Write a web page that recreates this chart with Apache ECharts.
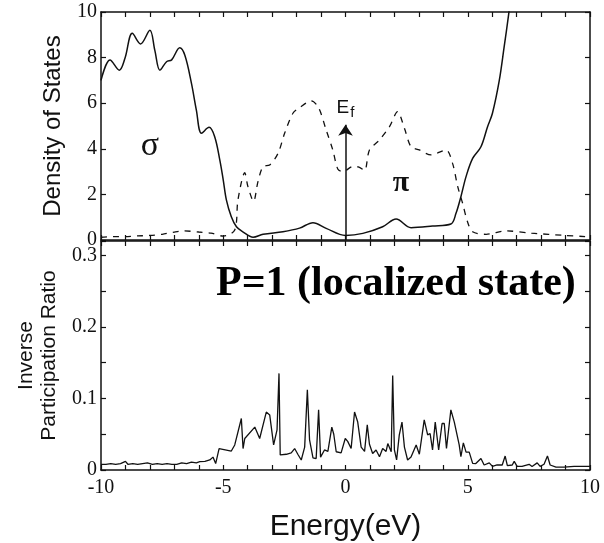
<!DOCTYPE html>
<html>
<head>
<meta charset="utf-8">
<script src="https://cdn.jsdelivr.net/npm/echarts@6/dist/echarts.min.js"></script>
<style>
html,body{margin:0;padding:0;background:#fff}
#chart{width:604px;height:543px}
</style>
</head>
<body>
<div id="chart"></div>
<script>
////---------------- data ----------------////
// total density of states (solid)
const dosE     = [-10,-9.63,-9.25,-9.02,-8.72,-8.38,-8.0,-7.8,-7.59,-7.32,-7.11,-6.78,-6.57,-6.3,-6.1,-5.89,-5.58,-5.35,-5.14,-5.0,-4.87,-4.67,-4.46,-4.2,-3.78,-3.37,-2.56,-1.88,-1.33,-0.79,0,0.71,1.52,2.07,2.68,3.56,4.31,4.52,4.72,4.93,5.2,5.54,5.81,6.01,6.29,6.49,6.67,6.75];
const dosTotal = [7.0,7.9,7.45,7.97,9.07,8.6,9.2,8.33,7.45,7.82,7.9,8.43,8.1,6.87,5.7,4.68,4.94,4.53,3.5,2.63,1.75,1.02,0.58,0.36,0.12,0.25,0.36,0.52,0.76,0.51,0.2,0.29,0.58,0.92,0.54,0.61,0.7,1.17,1.9,2.78,3.58,4.09,4.97,5.56,7.0,8.48,9.87,10.6];
// pi density of states (dashed)
const piE   = [-10,-9.5,-9.0,-8.5,-8.0,-7.5,-7.0,-6.6,-6.0,-5.5,-5.0,-4.53,-4.4,-4.12,-3.99,-3.76,-3.58,-3.37,-3.1,-2.76,-2.49,-2.15,-1.88,-1.4,-1.1,-0.79,-0.52,-0.31,-0.1,0.3,0.55,0.78,0.98,1.39,1.8,2.13,2.41,2.68,3.02,3.5,4.11,4.38,4.59,4.79,4.99,5.2,5.75,6.56,7.6,9.0,9.8];
const piDos = [0.12,0.15,0.15,0.18,0.2,0.25,0.35,0.4,0.35,0.3,0.17,0.44,1.75,2.95,2.34,1.7,2.56,3.22,3.29,3.8,4.68,5.56,5.8,6.1,5.8,4.82,3.95,3.1,3.0,3.22,3.2,3.05,3.95,4.39,4.97,5.63,4.9,4.09,3.95,3.73,3.95,3.36,2.34,1.61,0.8,0.36,0.25,0.4,0.3,0.2,0.15];
// inverse participation ratio
const iprE = [-10,-9.8,-9.6,-9.4,-9.2,-9.0,-8.9,-8.7,-8.5,-8.3,-8.1,-7.9,-7.7,-7.5,-7.3,-7.1,-6.9,-6.7,-6.5,-6.3,-6.1,-5.96,-5.75,-5.55,-5.42,-5.31,-5.17,-5.10,-4.67,-4.53,-4.26,-4.19,-4.12,-3.71,-3.51,-3.44,-3.24,-3.10,-2.94,-2.80,-2.72,-2.67,-2.42,-2.22,-2.08,-1.95,-1.81,-1.67,-1.56,-1.47,-1.33,-1.20,-1.10,-1.02,-0.86,-0.72,-0.56,-0.48,-0.38,-0.18,-0.01,0.09,0.23,0.37,0.50,0.64,0.78,0.89,0.98,1.11,1.25,1.39,1.52,1.66,1.73,1.87,1.93,2.00,2.09,2.20,2.31,2.41,2.54,2.68,2.89,3.02,3.22,3.36,3.46,3.56,3.67,3.81,3.95,4.04,4.13,4.31,4.45,4.65,4.72,4.82,4.93,5.06,5.20,5.33,5.54,5.67,5.88,6.01,6.2,6.41,6.53,6.62,6.82,6.9,7.02,7.22,7.51,7.63,7.84,7.96,8.12,8.26,8.37,8.45,8.61,8.94,9.35,9.76,10];
const ipr  = [0.008,0.008,0.009,0.008,0.009,0.012,0.008,0.009,0.008,0.009,0.010,0.008,0.009,0.008,0.009,0.008,0.008,0.010,0.009,0.011,0.010,0.0116,0.012,0.014,0.018,0.009,0.030,0.028,0.0265,0.035,0.072,0.030,0.044,0.060,0.044,0.043,0.081,0.077,0.035,0.056,0.135,0.021,0.022,0.024,0.030,0.022,0.014,0.032,0.112,0.042,0.017,0.016,0.084,0.018,0.028,0.026,0.060,0.050,0.0255,0.024,0.044,0.040,0.030,0.081,0.067,0.032,0.026,0.063,0.036,0.023,0.028,0.0185,0.030,0.026,0.037,0.0255,0.132,0.028,0.014,0.049,0.067,0.032,0.014,0.018,0.035,0.022,0.070,0.049,0.051,0.028,0.067,0.028,0.065,0.065,0.030,0.084,0.067,0.035,0.0185,0.038,0.025,0.025,0.0093,0.009,0.016,0.007,0.010,0.005,0.007,0.007,0.0195,0.006,0.007,0.012,0.005,0.005,0.008,0.005,0.010,0.005,0.008,0.0195,0.007,0.009,0.004,0.004,0.005,0.005,0.005];
const xTicks = [-10,-5,0,5,10];
////--------------------------------------////
function zip(a, b) {
    return a.map((v, i) => [v, b[i]]);
}
const ink = '#111';
const serif = 'Liberation Serif';
const sans = 'Liberation Sans';

function x_axis(grid, pos, labels) {
    return {
        type: 'value', gridIndex: grid, position: pos, min: -10, max: 10, interval: 5,
        axisLine: {onZero: false, lineStyle: {color: ink, width: 1.5}},
        axisTick: {inside: true, length: 5, lineStyle: {color: ink, width: 1.2}},
        minorTick: {show: true, splitNumber: 5, length: 5, lineStyle: {color: ink, width: 1.2}},
        splitLine: {show: false},
        axisLabel: {show: labels, color: ink, fontFamily: serif, fontSize: 20, margin: 8,
            formatter: v => xTicks.includes(v) ? String(v) : ''}
    };
}
function y_axis(grid, pos, max, interval, minor, labels, fmt) {
    return {
        type: 'value', gridIndex: grid, position: pos, min: 0, max: max, interval: interval,
        axisLine: {show: true, onZero: false, lineStyle: {color: ink, width: 1.5}},
        axisTick: {inside: true, length: 5, lineStyle: {color: ink, width: 1.2}},
        minorTick: {show: minor > 0, splitNumber: minor || 5, length: 5, lineStyle: {color: ink, width: 1.2}},
        splitLine: {show: false},
        axisLabel: {show: labels, color: ink, fontFamily: serif, fontSize: 20, margin: 4, formatter: fmt}
    };
}

const chart = echarts.init(document.getElementById('chart'), null, {renderer: 'canvas'});
const xs = [x_axis(0, 'bottom', false), x_axis(0, 'top', false), x_axis(1, 'bottom', true), x_axis(1, 'top', false)];
xs[2].name = 'Energy(eV)';
xs[2].nameLocation = 'middle';
xs[2].nameGap = 42;
xs[2].nameTextStyle = {fontFamily: sans, fontSize: 30, color: ink};

const iprFmt = v => {
    const t = Math.round(v * 10);
    if (Math.abs(v * 10 - t) > 1e-6) return '';
    return t === 0 ? '0' : (t / 10).toFixed(1);
};
const ys = [
    y_axis(0, 'left', 10, 2, 0, true, v => String(v)),
    y_axis(0, 'right', 10, 2, 0, false),
    y_axis(1, 'left', 0.32, 0.1, 2, true, iprFmt),
    y_axis(1, 'right', 0.32, 0.1, 2, false)
];
ys[0].name = 'Density of States';
ys[0].nameLocation = 'middle';
ys[0].nameGap = 36;
ys[0].nameTextStyle = {fontFamily: sans, fontSize: 24, color: ink};
ys[2].name = 'Inverse\nParticipation Ratio';
ys[2].nameLocation = 'middle';
ys[2].nameGap = 38;
ys[2].nameTextStyle = {fontFamily: sans, fontSize: 21, lineHeight: 23, color: ink};

const option = {
    animation: false,
    backgroundColor: '#fff',
    title: {
        text: 'P=1 (localized state)', left: 211, top: 258,
        textStyle: {fontFamily: serif, fontWeight: 'bold', fontSize: 42, color: '#000'}
    },
    grid: [
        {left: 101, right: 14, top: 12, height: 228},
        {left: 101, right: 14, top: 241, height: 229}
    ],
    xAxis: xs,
    yAxis: ys,
    series: [
        {
            type: 'line', xAxisIndex: 0, yAxisIndex: 0, data: zip(dosE, dosTotal),
            showSymbol: false, smooth: 0.35, lineStyle: {color: ink, width: 1.5},
            markPoint: {
                symbol: 'circle', symbolSize: 0, silent: true,
                data: [
                    {name: 'σ', coord: [-8.0, 4.1], label: {show: true, formatter: '{b}', color: ink, fontFamily: serif, fontSize: 34}},
                    {name: 'π', coord: [2.27, 2.5], label: {show: true, formatter: '{b}', color: ink, fontFamily: serif, fontWeight: 'bold', fontSize: 30}}
                ]
            }
        },
        {
            type: 'line', xAxisIndex: 0, yAxisIndex: 0, data: zip(piE, piDos),
            showSymbol: false, smooth: 0.3, lineStyle: {color: ink, width: 1.3, type: [6, 6]},
            markLine: {
                silent: true, symbol: ['none', 'arrow'], symbolSize: 11,
                lineStyle: {color: ink, width: 1.5, type: 'solid'},
                label: {show: true, position: 'end', distance: 5, formatter: '{e|E}{f|f}',
                    rich: {
                        e: {fontFamily: sans, fontSize: 19, color: ink},
                        f: {fontFamily: sans, fontSize: 15, color: ink, padding: [10, 0, 0, 1]}
                    }},
                data: [[{coord: [0, 0]}, {coord: [0, 5.05]}]]
            }
        },
        {
            type: 'line', xAxisIndex: 2, yAxisIndex: 2, data: zip(iprE, ipr),
            showSymbol: false, lineStyle: {color: ink, width: 1.3}
        }
    ]
};
chart.setOption(option);
</script>
</body>
</html>
